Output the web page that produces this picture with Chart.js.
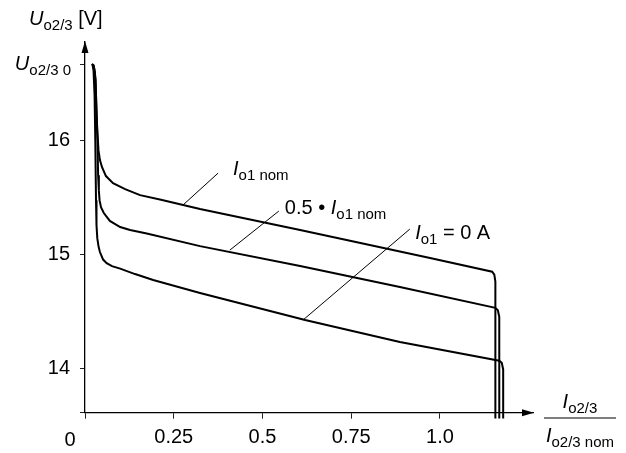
<!DOCTYPE html>
<html>
<head>
<meta charset="utf-8">
<script src="https://cdn.jsdelivr.net/npm/chart.js@4.4.1/dist/chart.umd.min.js"></script>
<style>
  body { margin: 0; background: #fff; }
  #wrap { width: 626px; height: 453px; position: relative; }
</style>
</head>
<body>
<div id="wrap"><canvas id="chart"></canvas></div>
<script>
// values (x = Io2/3 / Io2/3 nom, y = Uo2/3 in V)
const nomX  = [0.019, 0.024, 0.028, 0.031, 0.034, 0.038, 0.042, 0.048, 0.059, 0.079, 0.113, 0.155, 0.211, 0.324, 0.606, 0.972, 1.147, 1.153, 1.156, 1.156];
const nomY  = [16.666, 16.657, 16.596, 16.394, 16.131, 15.912, 15.825, 15.763, 15.685, 15.623, 15.571, 15.518, 15.479, 15.396, 15.212, 14.966, 14.847, 14.822, 14.760, 13.56];

const halfX = [0.020, 0.025, 0.030, 0.032, 0.035, 0.037, 0.039, 0.041, 0.045, 0.053, 0.070, 0.099, 0.127, 0.174, 0.324, 0.606, 0.887, 1.156, 1.163, 1.167, 1.167];
const halfY = [16.666, 16.648, 16.526, 16.263, 16.0, 15.693, 15.562, 15.474, 15.413, 15.361, 15.292, 15.238, 15.212, 15.181, 15.071, 14.896, 14.712, 14.530, 14.508, 14.450, 13.56];

const zeroX = [0.021, 0.024, 0.027, 0.029, 0.031, 0.0324, 0.0346, 0.038, 0.042, 0.051, 0.061, 0.076, 0.099, 0.141, 0.192, 0.324, 0.620, 0.887, 1.167, 1.174, 1.178, 1.178];
const zeroY = [16.666, 16.61, 16.39, 16.0, 15.474, 15.255, 15.141, 15.071, 15.019, 14.953, 14.922, 14.896, 14.874, 14.826, 14.774, 14.66, 14.423, 14.23, 14.066, 14.048, 13.99, 13.56];

const xTicks = [0, 0.25, 0.5, 0.75, 1.0];
const xTickLabels = ['0', '0.25', '0.5', '0.75', '1.0'];
const yTicks = [14, 15, 16];
const u0Value = 16.666;

const xMin = 0, xMax = 1.262;
const yMin = 13.611, yMax = 16.86;

// curve labels and their leader lines, in data units
const labelNotes = [
  { parts: [{ t: 'I', i: true }, { t: 'o1 nom', sub: true }], x: 0.417, y: 15.693, from: [0.375, 15.711], to: [0.276, 15.431] },
  { parts: [{ t: '0.5 \u2022 ' }, { t: 'I', i: true }, { t: 'o1 nom', sub: true }], x: 0.563, y: 15.352, from: [0.546, 15.378], to: [0.408, 15.036] },
  { parts: [{ t: 'I', i: true }, { t: 'o1', sub: true }, { t: ' = 0 A' }], x: 0.930, y: 15.133, from: [0.915, 15.22], to: [0.614, 14.423] }
];

const FAMILY = '"Liberation Sans", Arial, sans-serif';
function fontOf(p) {
  return (p.i ? 'italic ' : '') + (p.sub ? 15 : 20) + 'px ' + FAMILY;
}
function richWidth(ctx, parts) {
  let w = 0;
  parts.forEach(p => { ctx.font = fontOf(p); w += ctx.measureText(p.t).width; });
  return w;
}
function drawRich(ctx, x, y, parts, align) {
  const w = richWidth(ctx, parts);
  let cx = align === 'center' ? x - w / 2 : align === 'right' ? x - w : x;
  ctx.textBaseline = 'alphabetic';
  ctx.textAlign = 'left';
  parts.forEach(p => {
    ctx.font = fontOf(p);
    ctx.fillText(p.t, cx, y + (p.sub ? 5 : 0));
    cx += ctx.measureText(p.t).width;
  });
  return w;
}

const toPoints = (xs, ys) => xs.map((x, i) => ({ x: x, y: ys[i] }));

const decorPlugin = {
  id: 'decor',
  afterDraw(chart) {
    const ctx = chart.ctx;
    const xs = chart.scales.x, ys = chart.scales.y;
    const area = chart.chartArea;
    ctx.save();
    ctx.fillStyle = '#000';
    ctx.strokeStyle = '#000';

    // arrow heads on the axes
    ctx.beginPath();
    ctx.moveTo(area.left, area.top - 1);
    ctx.lineTo(area.left - 3.5, area.top + 11);
    ctx.lineTo(area.left + 3.5, area.top + 11);
    ctx.closePath();
    ctx.fill();
    ctx.beginPath();
    ctx.moveTo(area.right + 1, area.bottom);
    ctx.lineTo(area.right - 11, area.bottom - 3.5);
    ctx.lineTo(area.right - 11, area.bottom + 3.5);
    ctx.closePath();
    ctx.fill();

    // axis titles
    drawRich(ctx, 29, 25, [{ t: 'U', i: true }, { t: 'o2/3', sub: true }, { t: ' [V]' }], 'left');
    drawRich(ctx, 71, ys.getPixelForValue(u0Value) + 6, [{ t: 'U', i: true }, { t: 'o2/3 0', sub: true }], 'right');

    // origin label, set off to the left of the axis
    ctx.font = '20px ' + FAMILY;
    ctx.textAlign = 'center';
    ctx.textBaseline = 'alphabetic';
    ctx.fillText(xTickLabels[0], xs.getPixelForValue(0) - 15, 446);

    // x title as a fraction
    const num = [{ t: 'I', i: true }, { t: 'o2/3', sub: true }];
    const den = [{ t: 'I', i: true }, { t: 'o2/3 nom', sub: true }];
    const fx = 580;
    const dw = richWidth(ctx, den);
    drawRich(ctx, fx, 408, num, 'center');
    drawRich(ctx, fx, 442, den, 'center');
    ctx.lineWidth = 1.2;
    ctx.beginPath();
    ctx.moveTo(fx - dw / 2 - 2, 418);
    ctx.lineTo(fx + dw / 2 + 2, 418);
    ctx.stroke();

    // curve labels with leader lines
    ctx.lineWidth = 1;
    labelNotes.forEach(n => {
      ctx.beginPath();
      ctx.moveTo(xs.getPixelForValue(n.from[0]), ys.getPixelForValue(n.from[1]));
      ctx.lineTo(xs.getPixelForValue(n.to[0]), ys.getPixelForValue(n.to[1]));
      ctx.stroke();
      drawRich(ctx, xs.getPixelForValue(n.x), ys.getPixelForValue(n.y), n.parts, 'left');
    });
    ctx.restore();
  }
};

const lineStyle = {
  borderColor: '#000',
  borderWidth: 2,
  pointRadius: 0,
  tension: 0,
  fill: false,
  clip: false
};

new Chart(document.getElementById('chart'), {
  type: 'line',
  data: {
    datasets: [
      Object.assign({ label: 'Io1 nom', data: toPoints(nomX, nomY) }, lineStyle),
      Object.assign({ label: '0.5 Io1 nom', data: toPoints(halfX, halfY) }, lineStyle),
      Object.assign({ label: 'Io1 = 0 A', data: toPoints(zeroX, zeroY) }, lineStyle)
    ]
  },
  options: {
    responsive: true,
    maintainAspectRatio: false,
    animation: false,
    layout: { padding: { top: 42, right: 93, left: 0, bottom: 0 } },
    plugins: { legend: { display: false }, tooltip: { enabled: false } },
    scales: {
      x: {
        type: 'linear',
        min: xMin,
        max: xMax,
        afterBuildTicks: s => { s.ticks = xTicks.map(v => ({ value: v })); },
        afterFit: s => { s.height = 40.3; },
        border: { color: '#000', width: 1.3 },
        grid: { drawOnChartArea: false, drawTicks: true, tickLength: 6, color: '#222', tickWidth: 1 },
        ticks: {
          color: '#000',
          padding: 7,
          maxRotation: 0,
          autoSkip: false,
          font: { family: FAMILY, size: 20 },
          callback: v => (v === 0 ? '' : xTickLabels[xTicks.indexOf(v)])
        }
      },
      y: {
        type: 'linear',
        min: yMin,
        max: yMax,
        afterBuildTicks: s => { s.ticks = [yMin].concat(yTicks, [u0Value]).map(v => ({ value: v })); },
        afterFit: s => { s.width = 85; },
        border: { color: '#000', width: 1.3 },
        grid: { drawOnChartArea: false, drawTicks: true, tickLength: 5, color: '#222', tickWidth: 1 },
        ticks: {
          color: '#000',
          padding: 10,
          autoSkip: false,
          font: { family: FAMILY, size: 20 },
          callback: v => (yTicks.indexOf(v) >= 0 ? String(v) : '')
        }
      }
    }
  },
  plugins: [decorPlugin]
});
</script>
</body>
</html>
